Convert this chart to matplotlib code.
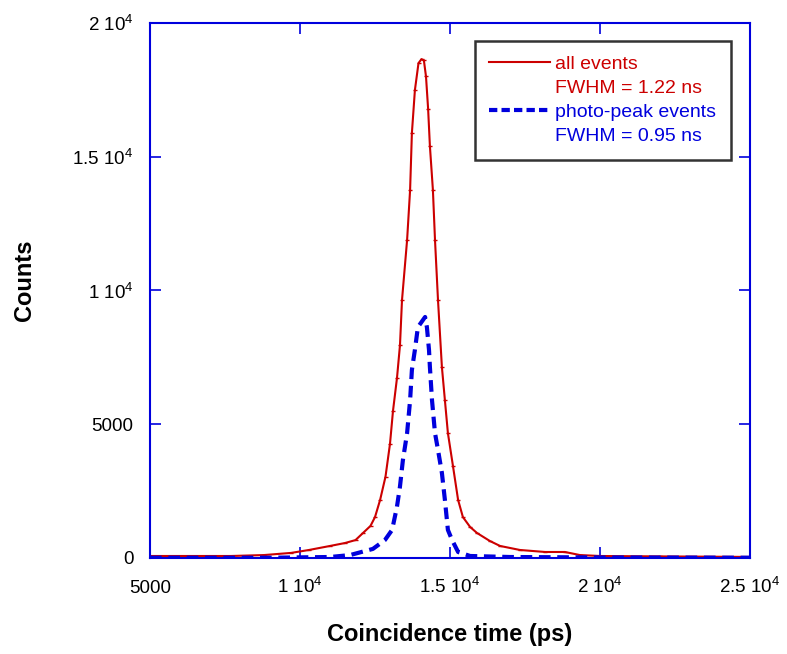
import matplotlib
matplotlib.use("Agg")
import matplotlib.pyplot as plt
from matplotlib.lines import Line2D

plt.rcParams['font.family'] = ['Liberation Sans', 'DejaVu Sans']
plt.rcParams['mathtext.fontset'] = 'custom'
plt.rcParams['mathtext.rm'] = 'Liberation Sans'

# all events (red)
t_all = [5000, 7700, 8800, 9700, 10300, 11000, 11500, 11850, 12100, 12350, 12500,
         12670, 12850, 13000, 13100, 13233, 13333, 13400, 13570, 13670, 13730, 13830,
         13950, 14050, 14130, 14200, 14270, 14330, 14430, 14500, 14600, 14730, 14830,
         14930, 15100, 15270, 15430, 15670, 15900, 16330, 16670, 17330, 18170, 18830,
         19330, 20000, 22000, 25000]
c_all = [75, 75, 110, 190, 300, 450, 560, 670, 935, 1200, 1530,
         2170, 3040, 4270, 5500, 6730, 7960, 9640, 11890, 13760, 15890, 17490,
         18500, 18650, 18600, 18000, 16800, 15400, 13760, 11890, 9640, 7140, 5900,
         4670, 3430, 2170, 1530, 1160, 935, 635, 450, 300, 225, 225,
         110, 75, 60, 40]

# photo-peak events (blue)
t_pp = [5000, 9000, 11000, 11670, 12430, 12830, 13070, 13230, 13330, 13430, 13570,
        13670, 13730, 13830, 13930, 14170, 14230, 14300, 14330, 14400, 14500, 14600,
        14730, 14830, 14930, 15070, 15270, 15670, 17000, 20000, 25000]
c_pp = [10, 10, 37, 110, 340, 670, 1050, 1900, 2650, 3660, 4670,
        5900, 7030, 7780, 8630, 9010, 8630, 7780, 7140, 5900, 4670, 4040,
        3180, 2170, 1050, 670, 225, 75, 37, 20, 10]

x_ticks = [5000, 10000, 15000, 20000, 25000]
x_tick_labels = ['5000', r'1 10$^{4}$', r'1.5 10$^{4}$', r'2 10$^{4}$', r'2.5 10$^{4}$']
y_ticks = [0, 5000, 10000, 15000, 20000]
y_tick_labels = ['0', '5000', r'1 10$^{4}$', r'1.5 10$^{4}$', r'2 10$^{4}$']

RED = '#cc0000'
BLUE = '#0000dd'

fig = plt.figure(figsize=(7.87, 6.54), dpi=100)
ax = fig.add_axes([150/787, 1-558/654, 600/787, 535/654])

ax.plot(t_all, c_all, color=RED, lw=1.5, marker='_', ms=3, mew=1)
ax.plot(t_pp, c_pp, color=BLUE, lw=3, linestyle=(0, (2.8, 1.6)))

ax.set_xlim(5000, 25000)
ax.set_ylim(0, 20000)
ax.set_xticks(x_ticks)
ax.set_xticklabels(x_tick_labels)
ax.set_yticks(y_ticks)
ax.set_yticklabels(y_tick_labels)
ax.tick_params(direction='in', length=8, width=1.2, color=BLUE, top=True, right=True,
               labelsize=13.5)
ax.tick_params(axis='x', pad=25.5)
ax.tick_params(axis='y', pad=12)
for lab in ax.get_xticklabels():
    lab.set_va('baseline')
for s in ax.spines.values():
    s.set_color(BLUE)
    s.set_linewidth(1.5)

ax.set_xlabel('Coincidence time (ps)', fontsize=17, fontweight='bold')
ax.set_ylabel('Counts', fontsize=17, fontweight='bold')
ax.xaxis.label.set_va('center')
ax.xaxis.set_label_coords(0.5, (558-634)/535)
ax.yaxis.label.set_va('center')
ax.yaxis.set_label_coords((25-150)/600, (558-280)/535)

handles = [Line2D([], [], color=RED, lw=1.5),
           Line2D([], [], color='none'),
           Line2D([], [], color=BLUE, lw=3, linestyle=(0, (2.0, 1.0))),
           Line2D([], [], color='none')]
labels = ['all events', 'FWHM = 1.22 ns', 'photo-peak events', 'FWHM = 0.95 ns']
leg = ax.legend(handles, labels, loc='upper right', bbox_to_anchor=(731/787, 1-41/654),
                bbox_transform=fig.transFigure, fontsize=14, frameon=True, fancybox=False,
                labelcolor=[RED, RED, BLUE, BLUE], handlelength=3.1, handletextpad=0.3,
                labelspacing=0.33, borderpad=0.75, borderaxespad=0)
leg.get_frame().set_edgecolor('black')
leg.get_frame().set_linewidth(1.8)

fig.savefig('out.png', dpi=100)
